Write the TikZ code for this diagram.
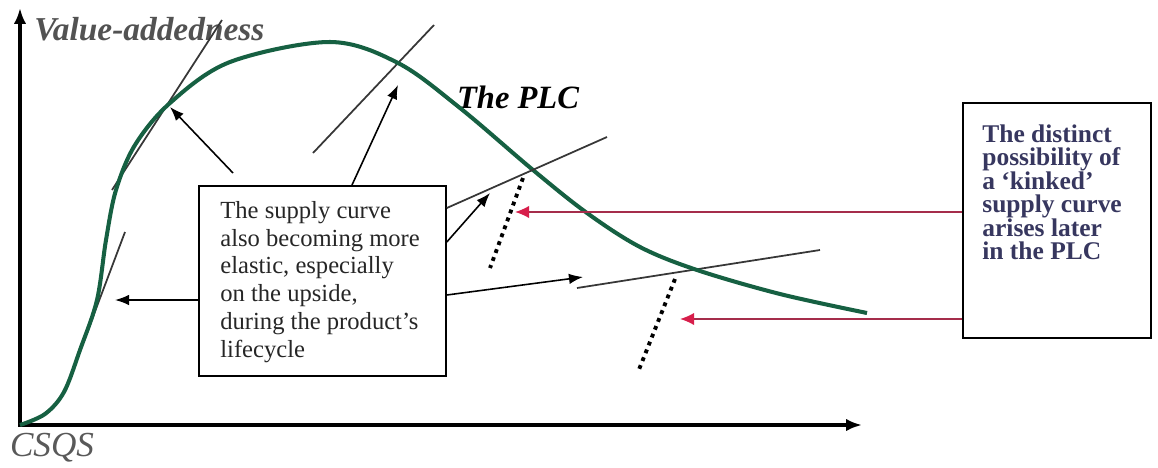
\documentclass[tikz,border=0pt]{standalone}
\usepackage{fontspec}
\setmainfont{Liberation Serif}
\usetikzlibrary{arrows.meta}
\definecolor{plc}{RGB}{22,96,66}
\definecolor{tang}{RGB}{55,55,55}
\definecolor{redarr}{RGB}{165,45,75}
\definecolor{redtip}{RGB}{215,30,75}
\definecolor{kink}{RGB}{55,55,95}
\begin{document}
\begin{tikzpicture}[x=0.02cm,y=-0.02cm,
  axis/.style={line width=2.3pt,black},
  tangent/.style={draw=tang,line width=1pt},
  plccurve/.style={draw=plc,line width=2.3pt},
  callout/.style={draw=black,line width=0.9pt,-{Latex[length=8pt,width=6pt]}},
  redcall/.style={draw=redarr,line width=0.8pt,-{Latex[length=8pt,width=7pt,fill=redtip,color=redtip]}},
  dotline/.style={line width=2.2pt,dash pattern=on 2.2pt off 2.6pt},
  textbox/.style={draw=black,line width=1pt,anchor=north west,inner sep=0pt},
]
\useasboundingbox (0,0) rectangle (1158,467);
% axes
\coordinate (O) at (20,425);
\coordinate (ytop) at (20,8);
\coordinate (xend) at (862,425);
\draw[axis,{Latex[length=9pt,width=7pt]}-{Latex[length=9pt,width=7pt]}] (ytop) -- (O) -- (xend);
\node[anchor=west,font=\fontsize{19}{20}\selectfont\bfseries\itshape,text=black!68,inner sep=0pt] (ylab) at (34,29) {Value-addedness};
\node[font=\fontsize{20}{21}\selectfont\itshape,text=black!65,inner sep=0pt] (xlab) at (52,448) {CSQS};
\node[font=\fontsize{18.5}{20}\selectfont\bfseries\itshape,inner sep=0pt] (plclab) at (518,97) {The PLC};
% tangent lines
\draw[tangent] (68,383) -- (125,232);
\draw[tangent] (112,190) -- (222,20);
\draw[tangent] (313,153) -- (434,25);
\draw[tangent] (577,288) -- (820,250);
% PLC curve
\draw[plccurve] plot[smooth,tension=0.55] coordinates {(20,425) (45,414) (64,392) (80,350) (97,300) (106,240) (116,190) (135,145) (170,103) (230,62) (330,42) (398,63) (460,108) (533,170) (587,213) (640,247) (697,270) (780,294) (867,313)};
% dotted kinks
\draw[dotline] (523,178) -- (490,268);
\draw[dotline] (675,279) -- (638,372);
% central box
\node[textbox,minimum width=140.6pt,minimum height=108pt] (sbox) at (198,185) {};
\node[anchor=north west,align=left,inner sep=0pt,font=\fontsize{14}{15.8}\selectfont,text=black!85] (stext) at (220,201) {The supply curve\\also becoming more\\elastic, especially\\on the upside,\\during the product’s\\lifecycle};
\draw[tangent] (sbox.east |- 0,208) -- (607,137);
\coordinate (t1) at (170,107);
\coordinate (s1) at (233,173);
\coordinate (t2) at (398,85);
\coordinate (t3) at (490,193);
\coordinate (t4) at (583,277);
\coordinate (t5) at (115,300);
\draw[callout] (s1) -- (t1);
\draw[callout] (sbox.north -| 352,0) -- (t2);
\draw[callout] (sbox.east |- 0,242) -- (t3);
\draw[callout] (sbox.east |- 0,295) -- (t4);
\draw[callout] (sbox.west |- 0,300) -- (t5);
% kinked box
\node[textbox,minimum width=107pt,minimum height=133.7pt] (kbox) at (962,102) {};
\node[anchor=north west,align=left,inner sep=0pt,font=\fontsize{14.5}{13.4}\selectfont\bfseries,text=kink] (ktext) at (982,124) {The distinct\\possibility of\\a ‘kinked’\\supply curve\\arises later\\in the PLC};
\coordinate (r1) at (515,212);
\coordinate (r2) at (680,319);
\draw[redcall] (kbox.west |- r1) -- (r1);
\draw[redcall] (kbox.west |- r2) -- (r2);
\end{tikzpicture}
\end{document}
